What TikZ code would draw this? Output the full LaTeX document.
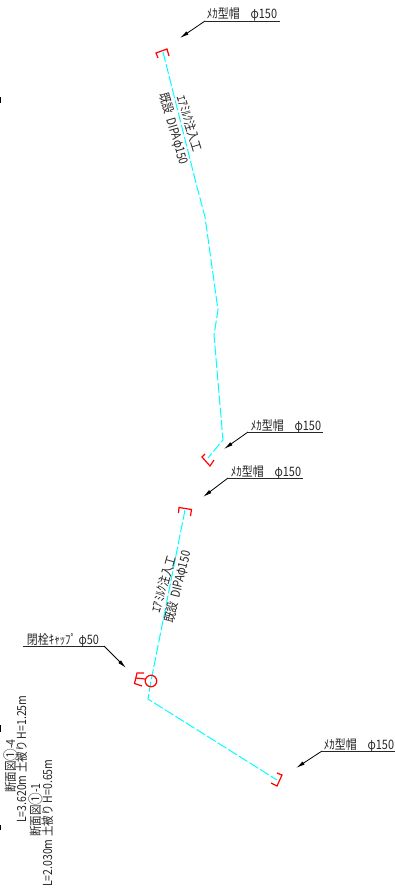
\documentclass[tikz,border=0pt]{standalone}
\usepackage{fontspec}
\usepackage{graphicx}
\setmainfont{Noto Sans CJK JP}
\usetikzlibrary{arrows.meta}
\definecolor{pipecyan}{rgb}{0,1,1}
\definecolor{capred}{rgb}{1,0,0}
\newcommand{\cad}[2][0.84]{\scalebox{#1}[1]{#2}}
\newcommand{\bigone}{\raisebox{-1.2pt}{\fontsize{15}{15}\selectfont ①}}
\tikzset{
  x=1pt,y=-1pt,
  pipe/.style={draw=pipecyan,line width=1pt,dash pattern=on 10pt off 2.5pt},
  capmark/.style={draw=capred,line width=1.2pt,line join=miter},
  under/.style={draw=black!85,line width=0.9pt},
  leader/.style={draw=black,line width=0.8pt,-{Latex[length=9pt,width=3.8pt]}},
  lbl/.style={inner sep=0pt,font=\fontsize{13}{13}\selectfont,text=black!85},
  rlbl/.style={inner sep=0pt,font=\fontsize{12.5}{12.5}\selectfont,text=black!85},
  slbl/.style={inner sep=0pt,font=\fontsize{12.5}{12.5}\selectfont,text=black!85,rotate=90},
  tickmark/.style={fill=black,draw=none}
}
\begin{document}
\begin{tikzpicture}
\useasboundingbox[fill=white] (0,0) rectangle (395,891);
% pipes
\coordinate (p1) at (163,52);
\coordinate (p2) at (196,183);
\coordinate (p3) at (205,217);
\coordinate (p4) at (218,310);
\coordinate (p5) at (214,335);
\coordinate (p6) at (223,440);
\coordinate (p7) at (208,458);
\draw[pipe] (p1) -- (p2) -- (p3) -- (p4) -- (p5) -- (p6) -- (p7);
\coordinate (q1) at (185,510);
\coordinate (q2) at (151,681);
\coordinate (q3) at (148,699);
\coordinate (q4) at (277,780);
\draw[pipe] (q1) -- (q2) -- (q3) -- (q4);
% caps
\draw[capmark] (158,58) -- (156,53) -- (167,49) -- (169,56);
\draw[capmark] (205,454) -- (202,457) -- (210,466) -- (214,460);
\draw[capmark] (178.5,513) -- (179,507.5) -- (191.5,509.5) -- (190.5,516);
\draw[capmark] (277,773) -- (282,775) -- (277,786) -- (271,783);
\draw[capmark] (144,673) -- (137,673) -- (134.5,683.5) -- (142,686);
\draw[capmark] (136,678) -- (145,679);
\node[circle,draw=capred,line width=1.2pt,minimum size=11.5pt,inner sep=0pt] (valve) at (151,681) {};
% leaders
\node[lbl,anchor=base] (t1) at (242,19) {\cad{ﾒｶ型帽　φ150}};
\coordinate (u1a) at (205,21); \coordinate (u1b) at (280,21); \coordinate (h1) at (180,38);
\draw[under] (u1a) -- (u1b); \draw[leader] (u1a) -- (h1);
\node[lbl,anchor=base] (t2) at (286,430) {\cad{ﾒｶ型帽　φ150}};
\coordinate (u2a) at (248,432); \coordinate (u2b) at (323,432); \coordinate (h2) at (224,449);
\draw[under] (u2a) -- (u2b); \draw[leader] (u2a) -- (h2);
\node[lbl,anchor=base] (t3) at (266,476) {\cad{ﾒｶ型帽　φ150}};
\coordinate (u3a) at (228,478); \coordinate (u3b) at (303,478); \coordinate (h3) at (203,497);
\draw[under] (u3a) -- (u3b); \draw[leader] (u3a) -- (h3);
\node[lbl,anchor=base] (t4) at (359,749) {\cad{ﾒｶ型帽　φ150}};
\coordinate (u4a) at (322,751); \coordinate (u4b) at (395,751); \coordinate (h4) at (296,768);
\draw[under] (u4a) -- (u4b); \draw[leader] (u4a) -- (h4);
\node[lbl,anchor=base] (t5) at (63,644) {\cad{閉栓ｷｬｯﾌﾟ φ50}};
\coordinate (u5a) at (104,646); \coordinate (u5b) at (23,646); \coordinate (h5) at (126,668);
\draw[under] (u5a) -- (u5b); \draw[leader] (u5a) -- (h5);
% rotated labels
\node[rlbl,rotate=-73] (r1) at (190,124) {\cad{ｴｱﾐﾙｸ注入工}};
\node[rlbl,rotate=-74] (r2) at (173.5,129) {\cad{既設\ \ DIPAφ150}};
\node[rlbl,rotate=74] (r3) at (163.5,584) {\cad{ｴｱﾐﾙｸ注入工}};
\node[rlbl,rotate=76] (r4) at (178.5,587) {\cad{既設\ \ DIPAφ150}};
% section notes
\node[slbl,anchor=base west] (s1) at (15,793) {\cad{断面図\bigone-4}};
\node[slbl,anchor=base west] (s2) at (26,823) {\cad{L=3.620m 土被り H=1.25m}};
\node[slbl,anchor=base west] (s3) at (40,837) {\cad{断面図\bigone-1}};
\node[slbl,anchor=base west] (s4) at (52,887) {\cad{L=2.030m 土被り H=0.65m}};
% edge marks
\fill[tickmark] (0,97) rectangle (1.2,103);
\fill[tickmark] (0,725) rectangle (1.2,732);
\fill[tickmark] (0,825) rectangle (1.2,830);
\end{tikzpicture}
\end{document}
